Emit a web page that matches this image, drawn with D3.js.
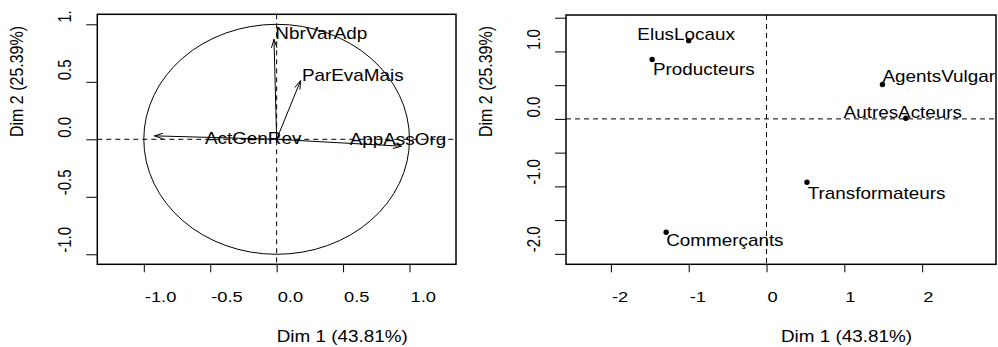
<!DOCTYPE html>
<html>
<head>
<meta charset="utf-8">
<script src="https://cdn.jsdelivr.net/npm/d3@7"></script>
<style>
  html, body { margin: 0; padding: 0; background: #fff; }
  svg { display: block; font-family: "Liberation Sans", Arial, sans-serif; }
</style>
</head>
<body>
<svg id="chart" width="998" height="347"></svg>
<script>
// variables (cercle des corrélations)
const varNames = ['NbrVarAdp', 'ParEvaMais', 'ActGenRev', 'AppAssOrg'];
const varDim1 = [-0.02, 0.18, -0.92, 0.94];
const varDim2 = [0.87, 0.51, 0.03, -0.06];
// position des étiquettes (déplacées par autoLab)
const varLabDim1 = [-0.01, 0.19, -0.54, 0.55];
const varLabDim2 = [0.92, 0.56, 0.01, 0.00];

// individus
const indNames = ['ElusLocaux', 'Producteurs', 'AgentsVulgar', 'AutresActeurs', 'Transformateurs', 'Commerçants'];
const indDim1 = [-1.00, -1.47, 1.49, 1.79, 0.52, -1.29];
const indDim2 = [1.16, 0.88, 0.51, 0.01, -0.94, -1.68];
const indLabDim1 = [-1.66, -1.46, 1.49, 0.99, 0.53, -1.29];
const indLabDim2 = [1.25, 0.74, 0.63, 0.10, -1.10, -1.80];

const xLabel = 'Dim 1 (43.81%)';
const yLabel = 'Dim 2 (25.39%)';
const varXTicks = [-1, -0.5, 0, 0.5, 1];
const varYTicks = [-1, -0.5, 0, 0.5, 1];
const indXTicks = [-2, -1, 0, 1, 2];
const indYTicks = [-2, -1.5, -1, -0.5, 0, 0.5, 1, 1.5];
const indYTickLabels = [-2, -1, 0, 1]; // les autres sont masqués (chevauchement)

const svg = d3.select('#chart');
const fsTick = 15, fsLab = 16;
const sxTick = 1.22, sxLab = 1.18;

function drawPanel(p) {
  const x = d3.scaleLinear().domain(p.xDomain).range([p.left, p.right]);
  const y = d3.scaleLinear().domain(p.yDomain).range([p.bottom, p.top]);
  const g = svg.append('g');

  // axe x
  const gx = g.append('g')
    .attr('transform', `translate(0,${p.bottom})`)
    .call(d3.axisBottom(x).tickValues(p.xTicks).tickSize(8).tickFormat(p.xFmt));
  gx.select('.domain').remove();
  gx.selectAll('line').attr('stroke', '#000');
  gx.selectAll('text')
    .attr('x', null).attr('y', null).attr('dy', null)
    .attr('text-anchor', 'start')
    .attr('fill', '#000')
    .style('font-size', fsTick + 'px')
    .attr('transform', `translate(0.5,38) scale(${sxTick},1)`);

  // axe y
  const gy = g.append('g')
    .attr('transform', `translate(${p.left},0)`)
    .call(d3.axisLeft(y).tickValues(p.yTicks).tickSize(11).tickFormat(p.yFmt));
  gy.select('.domain').remove();
  gy.selectAll('line').attr('stroke', '#000');
  gy.selectAll('text')
    .attr('x', null).attr('y', null).attr('dy', null)
    .attr('text-anchor', 'start')
    .attr('fill', '#000')
    .style('font-size', fsTick + 'px')
    .attr('transform', `translate(-26.2,-2) scale(${sxTick},1) rotate(-90)`);
  if (p.clipTop != null) {
    const id = 'clip' + Math.round(p.left);
    svg.append('clipPath').attr('id', id)
      .append('rect').attr('x', -200).attr('y', p.clipTop).attr('width', 400).attr('height', 400);
    gy.attr('clip-path', `url(#${id})`);
  }

  // titres des axes
  g.append('text')
    .attr('transform', `translate(${(p.left + p.right) / 2},341.7) scale(${sxLab},1)`)
    .style('font-size', fsLab + 'px')
    .text(xLabel);
  g.append('text')
    .attr('transform', `translate(${p.left - 74.3},137) scale(${sxLab},1) rotate(-90)`)
    .style('font-size', fsLab + 'px')
    .text(yLabel);

  // lignes pointillées
  g.append('line')
    .attr('x1', p.left).attr('x2', p.right)
    .attr('y1', y(0)).attr('y2', y(0))
    .attr('stroke', '#000').attr('stroke-dasharray', '5,4');
  g.append('line')
    .attr('x1', x(0)).attr('x2', x(0))
    .attr('y1', p.top).attr('y2', p.bottom)
    .attr('stroke', '#000').attr('stroke-dasharray', '5,4');

  // cadre
  g.append('rect')
    .attr('x', p.left).attr('y', p.top)
    .attr('width', p.right - p.left).attr('height', p.bottom - p.top)
    .attr('fill', 'none').attr('stroke', '#000').attr('stroke-width', 1.5);

  return { g, x, y };
}

// --- graphe des variables
const left = drawPanel({
  left: 97.3, right: 456, top: 14.3, bottom: 264.3,
  xDomain: [-1.35, 1.35], yDomain: [-1.087, 1.087],
  xTicks: varXTicks, yTicks: varYTicks,
  xFmt: d => d.toFixed(1), yFmt: d => d.toFixed(1),
  clipTop: 10
});

left.g.append('ellipse')
  .attr('cx', left.x(0)).attr('cy', left.y(0))
  .attr('rx', left.x(1) - left.x(0)).attr('ry', left.y(0) - left.y(1))
  .attr('fill', 'none').attr('stroke', '#000').attr('stroke-width', 1);

const arrowLen = 9, arrowAng = 18 * Math.PI / 180;
varNames.forEach((name, i) => {
  const x0 = left.x(0), y0 = left.y(0);
  const x1 = left.x(varDim1[i]), y1 = left.y(varDim2[i]);
  const a = Math.atan2(y1 - y0, x1 - x0);
  const h1 = [x1 - arrowLen * Math.cos(a - arrowAng), y1 - arrowLen * Math.sin(a - arrowAng)];
  const h2 = [x1 - arrowLen * Math.cos(a + arrowAng), y1 - arrowLen * Math.sin(a + arrowAng)];
  left.g.append('path')
    .attr('d', `M${x0},${y0}L${x1},${y1}M${h1[0]},${h1[1]}L${x1},${y1}L${h2[0]},${h2[1]}`)
    .attr('fill', 'none').attr('stroke', '#000').attr('stroke-width', 1);
  left.g.append('text')
    .attr('transform', `translate(${left.x(varLabDim1[i])},${left.y(varLabDim2[i]) + 5.7}) scale(${sxLab},1)`)
    .style('font-size', fsLab + 'px')
    .text(name);
});

// --- graphe des individus
const right = drawPanel({
  left: 566, right: 996, top: 15, bottom: 264.3,
  xDomain: [-2.577, 2.949], yDomain: [-2.155, 1.54],
  xTicks: indXTicks, yTicks: indYTicks,
  xFmt: d => d.toFixed(0),
  yFmt: d => indYTickLabels.includes(d) ? d.toFixed(1) : ''
});

right.g.selectAll('circle.ind')
  .data(indNames)
  .join('circle')
  .attr('class', 'ind')
  .attr('cx', (d, i) => right.x(indDim1[i]))
  .attr('cy', (d, i) => right.y(indDim2[i]))
  .attr('r', 2.7)
  .attr('fill', '#000');

right.g.selectAll('text.ind')
  .data(indNames)
  .join('text')
  .attr('class', 'ind')
  .attr('transform', (d, i) => `translate(${right.x(indLabDim1[i])},${right.y(indLabDim2[i]) + 5.7}) scale(${sxLab},1)`)
  .style('font-size', fsLab + 'px')
  .text(d => d);
</script>
</body>
</html>
